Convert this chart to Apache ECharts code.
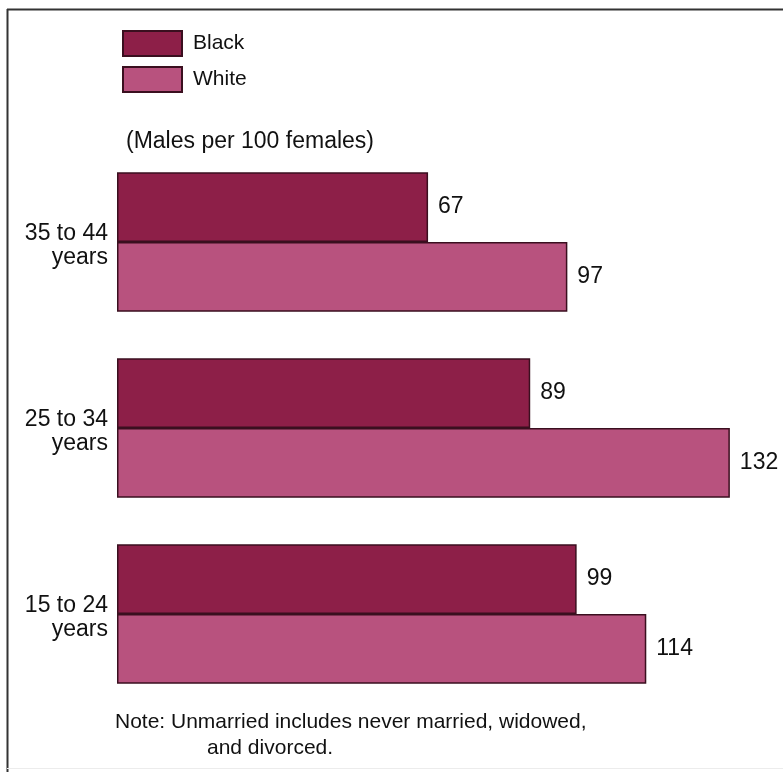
<!DOCTYPE html>
<html>
<head>
<meta charset="utf-8">
<title>Males per 100 females, unmarried</title>
<script src="https://cdn.jsdelivr.net/npm/echarts@6/dist/echarts.min.js"></script>
<style>
  html, body { margin: 0; padding: 0; background: #ffffff; }
  #chart { width: 783px; height: 775px; }
</style>
</head>
<body>
<div id="chart"></div>
<script>
// Age groups, listed from the bottom of the chart upward
const ageGroups = ['15 to 24\nyears', '25 to 34\nyears', '35 to 44\nyears'];
// Unmarried males per 100 unmarried females
const blackValues = [99, 89, 67];
const whiteValues = [114, 132, 97];
const seriesNames = ['Black', 'White'];
const subtitle = '(Males per 100 females)';
const noteLines = ['Note: Unmarried includes never married, widowed,', 'and divorced.'];

const FONT = '"Liberation Sans", Arial, Helvetica, sans-serif';
const BLACK_FILL = '#8d1f48';
const WHITE_FILL = '#b8527e';
const EDGE = '#3a0f1f';

const chart = echarts.init(document.getElementById('chart'), null, { renderer: 'canvas' });

const valueLabel = {
  show: true,
  position: 'right',
  distance: 10,
  color: '#111',
  fontFamily: FONT,
  fontSize: 23
};

// Age labels sit a little below the split between each pair of bars
function ageLabel(value) {
  return '{g| }\n' + value.split('\n').map(function (s) { return '{t|' + s + '}'; }).join('\n');
}

chart.setOption({
  animation: false,
  backgroundColor: '#ffffff',
  title: {
    text: subtitle,
    left: 126,
    top: 130,
    padding: 0,
    textStyle: { fontFamily: FONT, fontSize: 23, fontWeight: 'normal', color: '#111' }
  },
  legend: {
    data: seriesNames,
    orient: 'vertical',
    icon: 'rect',
    left: 122,
    top: 30,
    padding: 0,
    itemWidth: 59,
    itemHeight: 25,
    itemGap: 9,
    selectedMode: false,
    textStyle: { fontFamily: FONT, fontSize: 21, color: '#111', padding: [0, 0, 0, 6] }
  },
  grid: { left: 117, right: 16, top: 149, bottom: 68, containLabel: false },
  xAxis: {
    type: 'value',
    min: 0,
    max: 140,
    show: false
  },
  yAxis: {
    type: 'category',
    data: ageGroups,
    axisLine: { show: false },
    axisTick: { show: false },
    axisLabel: {
      margin: 9,
      align: 'right',
      formatter: ageLabel,
      rich: {
        g: { fontSize: 1, lineHeight: 8, align: 'right' },
        t: { color: '#111', fontFamily: FONT, fontSize: 23, lineHeight: 24, align: 'right' }
      }
    }
  },
  series: [
    {
      name: 'Black',
      type: 'bar',
      data: blackValues,
      barGap: '0%',
      barCategoryGap: '25%',
      itemStyle: { color: BLACK_FILL, borderColor: EDGE, borderWidth: 1.5 },
      label: valueLabel
    },
    {
      name: 'White',
      type: 'bar',
      data: whiteValues,
      barGap: '0%',
      barCategoryGap: '25%',
      itemStyle: { color: WHITE_FILL, borderColor: EDGE, borderWidth: 1.5 },
      label: valueLabel
    }
  ],
  graphic: [
    // frame: top rule and left rule
    { type: 'line', shape: { x1: 7, y1: 9.5, x2: 783, y2: 9.5 }, style: { stroke: '#333', lineWidth: 2 } },
    { type: 'line', shape: { x1: 7.5, y1: 9, x2: 7.5, y2: 772 }, style: { stroke: '#333', lineWidth: 2 } },
    { type: 'line', shape: { x1: 7, y1: 768.5, x2: 783, y2: 768.5 }, style: { stroke: '#ececec', lineWidth: 1 } },
    {
      type: 'text', left: 115, top: 712,
      style: { text: noteLines[0], fontFamily: FONT, fontSize: 21, fill: '#111' }
    },
    {
      type: 'text', left: 207, top: 738,
      style: { text: noteLines[1], fontFamily: FONT, fontSize: 21, fill: '#111' }
    }
  ]
});
</script>
</body>
</html>
